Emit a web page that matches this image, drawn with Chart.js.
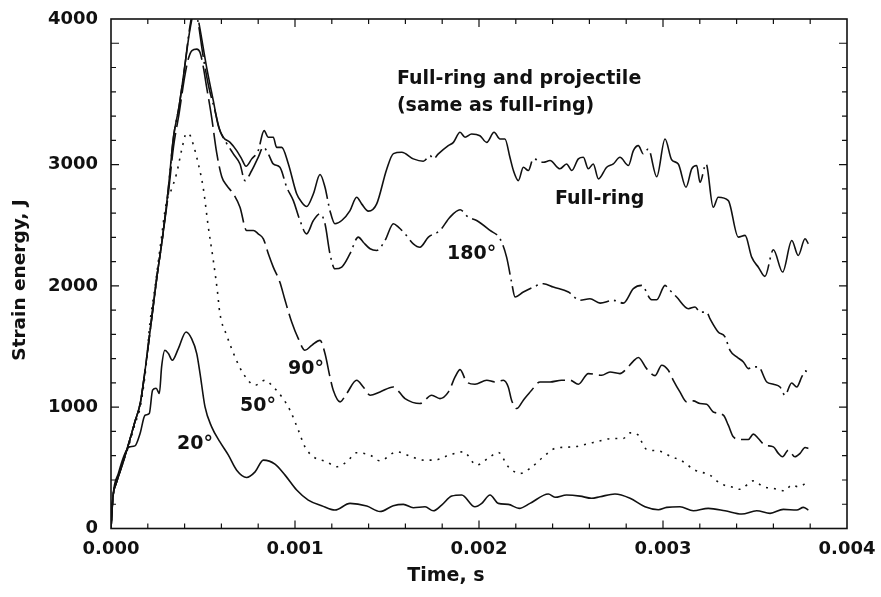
<!DOCTYPE html>
<html><head><meta charset="utf-8">
<script src="https://cdn.jsdelivr.net/npm/chart.js@4.4.1/dist/chart.umd.min.js"></script>
<style>html,body{margin:0;padding:0;background:#fff;}canvas{display:block;}</style>
</head><body>
<canvas id="c" width="881" height="597"></canvas>
<script>
// ---- tick labels ----
const xTickValues = [0, 0.001, 0.002, 0.003, 0.004];
const xTickLabels = ["0.000", "0.001", "0.002", "0.003", "0.004"];
const yTickValues = [0, 1000, 2000, 3000, 4200];
const yTickLabels = ["0", "1000", "2000", "3000", "4000"];
const seriesNames = ["Full-ring", "180°", "90°", "50°", "20°"];

// ---- Full-ring (and projectile) ----
const tFull = [0,0.00001,0.00003,0.00006,0.0001,0.00013,0.00016,0.00019,0.00022,0.00025,0.00028,0.00031,0.00034,0.00037,0.0004,0.00043,0.00046,0.00048,0.00052,0.000556,0.000583,0.00061,0.000647,0.000683,0.00071,0.000734,0.000765,0.0008,0.000832,0.000855,0.000882,0.0009,0.000928,0.000964,0.001009,0.001036,0.001063,0.0011,0.001136,0.001163,0.00119,0.001217,0.001254,0.001299,0.001335,0.001362,0.001399,0.001444,0.001498,0.001535,0.00158,0.001643,0.001697,0.001734,0.001752,0.001779,0.001833,0.001861,0.001897,0.001924,0.00196,0.002005,0.002042,0.002082,0.002114,0.002141,0.002168,0.002187,0.002214,0.002241,0.002268,0.002295,0.00235,0.002386,0.00244,0.002476,0.002504,0.00254,0.002567,0.002594,0.002621,0.002649,0.002694,0.00273,0.002766,0.002812,0.002839,0.002866,0.002893,0.00292,0.002966,0.003011,0.003047,0.003083,0.003125,0.003156,0.003183,0.003201,0.003234,0.003273,0.0033,0.003355,0.003409,0.003446,0.003482,0.00352,0.003554,0.0036,0.00365,0.0037,0.003735,0.003772,0.00379];
const eFull = [0,250,380,520,720,880,1040,1360,1720,2080,2400,2780,3230,3480,3800,4120,4300,4150,3800,3527,3320,3225,3183,3115,3047,2986,3047,3115,3280,3225,3225,3142,3142,3005,2759,2690,2654,2759,2918,2813,2620,2512,2539,2621,2731,2676,2616,2676,2960,3090,3101,3047,3027,3074,3047,3088,3156,3183,3266,3225,3252,3238,3183,3266,3211,3211,3060,2951,2868,2978,2951,3047,3019,3033,2965,3005,2951,3047,3060,2965,3005,2882,2978,3005,3060,2992,3115,3156,3088,3129,2900,3211,3040,3005,2813,2965,2992,2854,3005,2648,2731,2703,2402,2416,2237,2150,2078,2298,2114,2374,2251,2388,2347];

// ---- 180 deg ----
const t180 = [0,0.00001,0.00003,0.00006,0.0001,0.00013,0.00016,0.00019,0.00022,0.00025,0.00028,0.00031,0.00034,0.00037,0.0004,0.00043,0.00045,0.00047,0.0005,0.00053,0.000565,0.000592,0.00062,0.000665,0.000701,0.000728,0.000765,0.0008,0.000828,0.000855,0.000882,0.000918,0.000955,0.000991,0.001027,0.001063,0.0011,0.001136,0.001163,0.00119,0.001217,0.001254,0.001299,0.001344,0.001371,0.001408,0.001444,0.001489,0.001535,0.001562,0.001598,0.001643,0.001679,0.001725,0.001788,0.001842,0.001897,0.001942,0.001987,0.00206,0.002114,0.00215,0.002177,0.002196,0.002241,0.002295,0.00235,0.002404,0.002486,0.002549,0.002603,0.002658,0.00273,0.002784,0.002839,0.002884,0.002938,0.002966,0.003011,0.003029,0.003074,0.003138,0.003174,0.003201,0.003237,0.003255,0.0033,0.003337,0.003364,0.003401,0.003437,0.003464,0.003491,0.003518,0.003564,0.0036,0.003636,0.003663,0.003699,0.003727,0.003754,0.003772,0.00379];
const e180 = [0,250,380,520,720,880,1040,1360,1720,2080,2400,2780,3230,3480,3800,4150,4280,4200,3900,3650,3444,3280,3197,3088,3005,2868,2951,3060,3142,3088,3005,2978,2813,2703,2539,2429,2539,2594,2512,2265,2141,2155,2265,2402,2360,2306,2292,2374,2512,2484,2429,2347,2319,2402,2457,2566,2627,2566,2539,2457,2388,2237,2031,1908,1949,1990,2018,1990,1949,1881,1894,1858,1881,1858,1977,2004,1886,1886,2004,1977,1908,1812,1826,1784,1784,1730,1620,1579,1469,1414,1373,1318,1332,1332,1208,1189,1167,1099,1200,1167,1249,1299,1290];

// ---- 90 deg ----
const t90 = [0,0.00001,0.00003,0.00006,0.0001,0.00013,0.00016,0.00019,0.00022,0.00025,0.00028,0.00031,0.00034,0.00037,0.0004,0.00042,0.00044,0.000466,0.000484,0.000502,0.00052,0.000547,0.000574,0.000602,0.000629,0.000665,0.000701,0.000737,0.000774,0.0008,0.000828,0.000855,0.000882,0.000918,0.000946,0.000982,0.001018,0.001054,0.001091,0.001136,0.001163,0.00119,0.001208,0.001245,0.001281,0.001335,0.001371,0.001408,0.001462,0.001534,0.001598,0.001679,0.001743,0.001788,0.001834,0.00187,0.001897,0.001933,0.001978,0.002042,0.002087,0.002132,0.002159,0.002177,0.002205,0.002241,0.002286,0.002332,0.002386,0.002449,0.002495,0.00254,0.002594,0.002667,0.002712,0.002766,0.002803,0.002839,0.002866,0.002911,0.002957,0.002993,0.003029,0.003056,0.003092,0.003129,0.003165,0.003201,0.003237,0.003273,0.003328,0.003355,0.003382,0.003418,0.003464,0.003491,0.003518,0.003554,0.0036,0.003627,0.00365,0.003681,0.003717,0.003745,0.003772,0.00379];
const e90 = [0,250,380,520,720,880,1040,1360,1720,2080,2400,2740,3150,3420,3720,3870,3940,3952,3924,3801,3636,3389,3100,2900,2827,2759,2648,2457,2457,2429,2388,2265,2155,2030,1881,1702,1565,1469,1510,1551,1442,1249,1140,1044,1113,1222,1167,1099,1126,1167,1071,1030,1099,1071,1126,1249,1310,1208,1189,1222,1208,1222,1167,1058,989,1058,1140,1208,1208,1222,1222,1189,1277,1263,1290,1277,1318,1380,1410,1318,1260,1346,1304,1222,1126,1044,1052,1030,1025,961,934,852,756,734,734,778,742,687,673,619,591,646,591,619,668,660];

// ---- 50 deg ----
const t50 = [0,0.00001,0.00003,0.00006,0.0001,0.00013,0.00016,0.00019,0.000212,0.000239,0.00027,0.0003,0.00033,0.000357,0.000384,0.00041,0.00043,0.00045,0.000466,0.000502,0.000529,0.000556,0.000578,0.000592,0.000629,0.000674,0.000719,0.000783,0.000837,0.000882,0.000928,0.000973,0.001018,0.001054,0.0011,0.001172,0.001226,0.001281,0.001335,0.001408,0.001462,0.001553,0.001625,0.001697,0.001761,0.001824,0.001915,0.001987,0.00206,0.002105,0.002159,0.002223,0.002277,0.00235,0.002413,0.002513,0.002621,0.00273,0.002784,0.002821,0.002866,0.002884,0.002911,0.002975,0.003038,0.003101,0.003174,0.003255,0.00331,0.003382,0.003418,0.003491,0.003545,0.003599,0.003663,0.003699,0.003735,0.003781];
const e50 = [0,250,380,520,700,860,1010,1330,1700,1990,2350,2680,2800,2930,3120,3257,3240,3150,3060,2800,2484,2210,1960,1771,1592,1414,1277,1181,1222,1167,1085,975,811,673,591,550,509,550,624,605,558,632,597,564,564,597,632,523,591,627,509,454,495,591,660,673,709,742,742,788,770,714,652,640,597,558,481,440,372,339,323,393,344,331,311,358,344,377];

// ---- 20 deg ----
const t20 = [0,0.0000125,0.00004,0.000076,0.0001,0.00013,0.000158,0.000185,0.000208,0.000226,0.000245,0.000263,0.000275,0.000293,0.000312,0.000333,0.000366,0.000408,0.000438,0.000466,0.000484,0.000511,0.000547,0.000592,0.000638,0.000683,0.000737,0.000783,0.000828,0.000891,0.000946,0.001009,0.001072,0.001145,0.001217,0.001299,0.00139,0.001462,0.001534,0.001589,0.001643,0.001707,0.001752,0.001797,0.001852,0.001906,0.001978,0.002015,0.00206,0.002105,0.002159,0.002219,0.002277,0.002377,0.002413,0.002476,0.002549,0.002612,0.002658,0.002739,0.002821,0.002902,0.002975,0.00302,0.003092,0.003165,0.003246,0.003337,0.003428,0.003509,0.003582,0.003654,0.003727,0.003763,0.00379];
const e20 = [0,290,454,619,673,681,783,934,948,1140,1156,1113,1332,1469,1442,1387,1483,1620,1565,1442,1277,1002,838,714,605,481,421,467,564,531,440,317,234,188,152,207,185,140,188,199,171,179,146,193,267,276,179,207,276,207,199,166,207,284,257,276,267,249,262,284,249,179,155,174,179,146,166,146,119,146,125,158,152,174,152];

function pts(t, e) { return t.map((v, i) => ({ x: v, y: e[i] })); }

const FONT = "'DejaVu Sans', sans-serif";
const INK = '#111';

const framePlugin = {
  id: 'frameTicks',
  afterDatasetsDraw(chart) {
    const { ctx, chartArea: a, scales: { x, y } } = chart;
    ctx.save();
    ctx.strokeStyle = INK;
    ctx.lineWidth = 1.6;
    ctx.strokeRect(a.left, a.top, a.right - a.left, a.bottom - a.top);
    ctx.lineWidth = 1.2;
    ctx.beginPath();
    for (let k = 1; k < 20; k++) {
      const px = x.getPixelForValue(k * 0.0002);
      const L = (k % 5 === 0) ? 8 : 5;
      ctx.moveTo(px, a.bottom); ctx.lineTo(px, a.bottom - L);
      ctx.moveTo(px, a.top); ctx.lineTo(px, a.top + L);
    }
    for (let k = 1; k < 21; k++) {
      const py = y.getPixelForValue(k * 200);
      const L = (k % 5 === 0) ? 8 : 5;
      ctx.moveTo(a.left, py); ctx.lineTo(a.left + L, py);
      ctx.moveTo(a.right, py); ctx.lineTo(a.right - L, py);
    }
    ctx.stroke();

    // in-plot labels (anchored in data coordinates)
    ctx.fillStyle = INK;
    ctx.font = "bold 19px " + FONT;
    ctx.textAlign = 'left';
    ctx.textBaseline = 'middle';
    const notes = [
      ["Full-ring and projectile", 0.001554, 3708],
      ["(same as full-ring)", 0.001554, 3480],
      ["Full-ring", 0.002413, 2712],
      ["180°", 0.001826, 2259],
      ["90°", 0.000962, 1313],
      ["50°", 0.000701, 1008],
      ["20°", 0.000359, 695]
    ];
    notes.forEach(([s, tx, ty]) => ctx.fillText(s, x.getPixelForValue(tx), y.getPixelForValue(ty)));

    // axis titles
    ctx.font = "bold 19px " + FONT;
    ctx.textAlign = 'center';
    ctx.fillText("Time, s", 446, 576);
    ctx.translate(20, 280);
    ctx.rotate(-Math.PI / 2);
    ctx.font = "bold 18.5px " + FONT;
    ctx.fillText("Strain energy, J", 0, 0);
    ctx.restore();
  }
};

const common = { borderColor: INK, borderWidth: 1.6, pointRadius: 0, fill: false, cubicInterpolationMode: 'monotone' };

new Chart(document.getElementById('c'), {
  type: 'line',
  data: {
    datasets: [
      Object.assign({ label: seriesNames[0], data: pts(tFull, eFull), borderDash: [170, 5, 2, 5] }, common),
      Object.assign({ label: seriesNames[1], data: pts(t180, e180), borderDash: [30, 5, 2, 5] }, common),
      Object.assign({ label: seriesNames[2], data: pts(t90, e90), borderDash: [28, 6] }, common),
      Object.assign({ label: seriesNames[3], data: pts(t50, e50), borderDash: [2, 6] }, common),
      Object.assign({ label: seriesNames[4], data: pts(t20, e20) }, common)
    ]
  },
  options: {
    responsive: false,
    animation: false,
    devicePixelRatio: 1,
    layout: { padding: { left: 0, right: 34, top: 19, bottom: 0 } },
    plugins: { legend: { display: false }, tooltip: { enabled: false } },
    scales: {
      x: {
        type: 'linear', min: 0, max: 0.004,
        grid: { display: false, drawTicks: false },
        border: { display: false },
        afterBuildTicks: s => { s.ticks = xTickValues.map(v => ({ value: v })); },
        afterFit: s => { s.height = 68.5; s.paddingLeft = 0; s.paddingRight = 0; },
        ticks: {
          padding: 10, color: INK, maxRotation: 0, autoSkip: false,
          font: { family: FONT, size: 18, weight: 'bold' },
          callback: (v, i) => xTickLabels[i]
        }
      },
      y: {
        type: 'linear', min: 0, max: 4200,
        grid: { display: false, drawTicks: false },
        border: { display: false },
        afterBuildTicks: s => { s.ticks = yTickValues.map(v => ({ value: v })); },
        afterFit: s => { s.width = 111; s.paddingTop = 0; s.paddingBottom = 0; },
        ticks: {
          padding: 13, color: INK, autoSkip: false,
          font: { family: FONT, size: 18, weight: 'bold' },
          callback: (v, i) => yTickLabels[i]
        }
      }
    }
  },
  plugins: [framePlugin]
});
</script>
</body></html>
